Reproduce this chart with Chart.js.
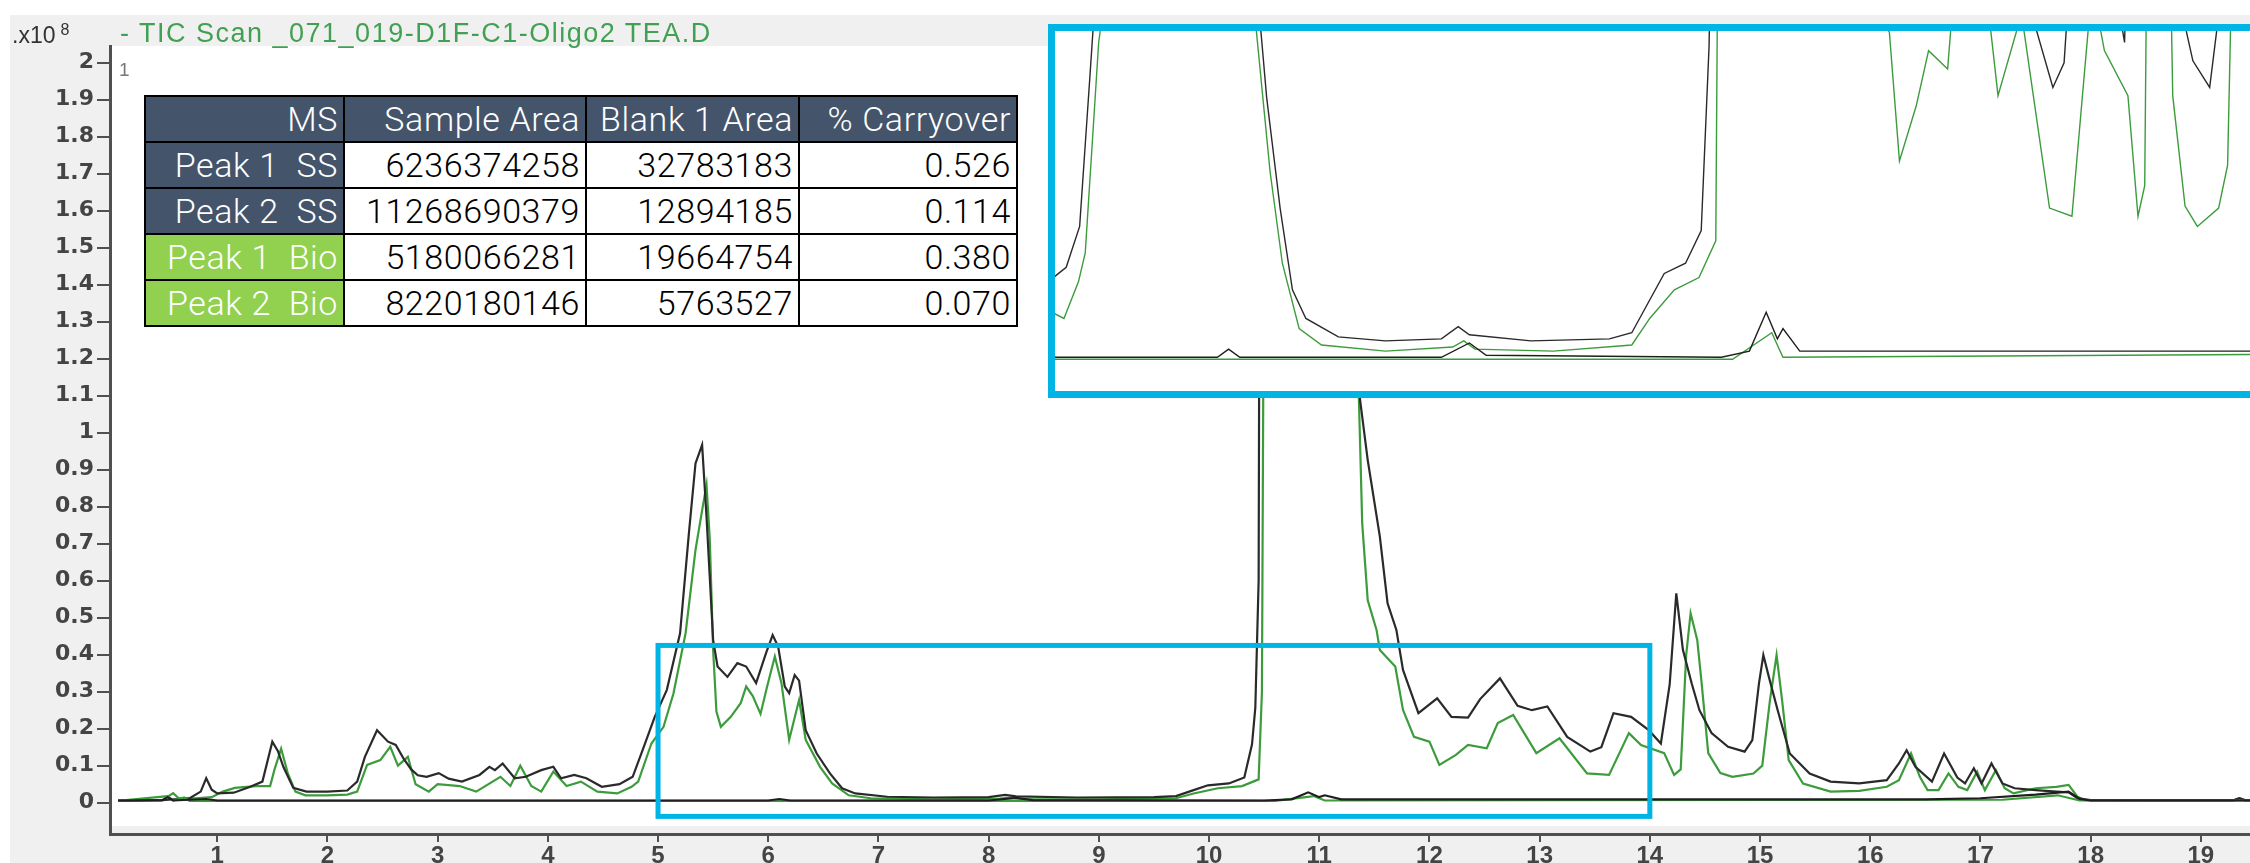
<!DOCTYPE html>
<html lang="en">
<head>
    <meta charset="UTF-8">
    <title>TIC Scan overlay</title>
    <script src="https://cdn.jsdelivr.net/npm/chart.js"></script>
    <style>
        html, body {
            margin: 0;
            padding: 0;
            width: 2250px;
            height: 863px;
            overflow: hidden;
            background: #fff;
        }
        #mainChart {
            position: absolute;
            left: 0;
            top: 0;
        }
        .lbl {
            position: absolute;
            font-family: "Liberation Sans", Arial, sans-serif;
            white-space: nowrap;
            line-height: 1;
        }
        #scaleLbl { left: 12px; top: 22px; font-size: 23px; color: #333; }
        #scaleLbl sup { font-size: 16px; vertical-align: 8px; margin-left: 5px; }
        #title { left: 120px; top: 20px; font-size: 27px; letter-spacing: 1.5px; color: #41a052; }
        #traceNo { left: 119px; top: 60px; font-size: 19px; color: #777; }
        #areas {
            position: absolute;
            left: 144px;
            top: 95px;
            width: 872px;
            table-layout: fixed;
            border-collapse: collapse;
            font-family: Roboto, Lato, sans-serif;
            font-weight: 300;
            font-size: 34px;
            letter-spacing: 0.6px;
            background: #fff;
        }
        #areas tr { height: 46px; }
        #areas td {
            border: 2px solid #000;
            padding: 0 5px 0 2px;
            text-align: right;
            white-space: pre;
            color: #000;
            line-height: 40px;
        }
        #areas tr.head td { background: #44546a; color: #fff; }
        #areas td.ss { background: #44546a; color: #fff; }
        #areas td.bio { background: #92d050; color: #fff; }
        #inset {
            position: absolute;
            left: 1048px;
            top: 24px;
            width: 1195px;
            height: 360px;
            border: 7px solid #00b4e6;
            border-right: none;
            background: #fff;
        }
        #insetChart { display: block; }
    </style>
</head>
<body>
    <canvas id="mainChart" width="2250" height="863"></canvas>

    <div class="lbl" id="scaleLbl">.x10<sup>8</sup></div>
    <div class="lbl" id="title">- TIC Scan _071_019-D1F-C1-Oligo2 TEA.D</div>
    <div class="lbl" id="traceNo">1</div>

    <table id="areas">
        <colgroup>
            <col style="width:199px"><col style="width:242px"><col style="width:213px"><col style="width:218px">
        </colgroup>
        <tr class="head"><td>MS</td><td>Sample Area</td><td>Blank 1 Area</td><td>% Carryover</td></tr>
        <tr><td class="ss">Peak 1  SS</td><td>6236374258</td><td>32783183</td><td>0.526</td></tr>
        <tr><td class="ss">Peak 2  SS</td><td>11268690379</td><td>12894185</td><td>0.114</td></tr>
        <tr><td class="bio">Peak 1  Bio</td><td>5180066281</td><td>19664754</td><td>0.380</td></tr>
        <tr><td class="bio">Peak 2  Bio</td><td>8220180146</td><td>5763527</td><td>0.070</td></tr>
    </table>

    <div id="inset"><canvas id="insetChart" width="1195" height="360"></canvas></div>

    <script>
        // retention time (min) and abundance (x10^8)
        const ssTime = [0.1, 0.5, 0.75, 0.85, 0.9, 0.95, 1.0, 1.15, 1.3, 1.41, 1.5, 1.55, 1.6, 1.69, 1.81, 2.0, 2.18, 2.27, 2.34, 2.45,
            2.55, 2.62, 2.69, 2.76, 2.82, 2.9, 3.01, 3.1, 3.22, 3.38, 3.47, 3.52, 3.59, 3.7, 3.8, 3.94, 4.05, 4.12, 4.24, 4.35,
            4.49, 4.65, 4.77, 4.86, 4.97, 5.08, 5.2, 5.28, 5.34, 5.4, 5.44, 5.5, 5.54, 5.63, 5.72, 5.8, 5.89, 5.98, 6.04, 6.09,
            6.15, 6.19, 6.24, 6.28, 6.34, 6.44, 6.56, 6.67, 6.79, 7.08, 7.5, 8.0, 8.15, 8.25, 8.8, 9.5, 9.7, 9.86, 9.99, 10.18,
            10.32, 10.39, 10.42, 10.45, 10.47, 11.3, 11.37, 11.44, 11.55, 11.62, 11.7, 11.76, 11.9, 12.07, 12.2, 12.35, 12.46, 12.64, 12.8, 12.93,
            13.07, 13.25, 13.46, 13.56, 13.67, 13.83, 13.99, 14.1, 14.18, 14.24, 14.3, 14.38, 14.45, 14.56, 14.71, 14.86, 14.93, 14.99, 15.03, 15.08,
            15.16, 15.27, 15.45, 15.64, 15.9, 16.15, 16.26, 16.33, 16.41, 16.56, 16.67, 16.79, 16.86, 16.94, 17.01, 17.1, 17.2, 17.31, 17.5, 17.69,
            17.8, 17.88, 18.0, 19.3, 19.35, 19.4, 19.5];
        const ssSignal = [0.006, 0.007, 0.012, 0.03, 0.066, 0.035, 0.025, 0.027, 0.043, 0.057, 0.165, 0.14, 0.097, 0.04, 0.03, 0.03, 0.033, 0.057, 0.124, 0.196,
            0.165, 0.156, 0.12, 0.09, 0.074, 0.07, 0.08, 0.065, 0.057, 0.075, 0.097, 0.088, 0.106, 0.066, 0.07, 0.088, 0.097, 0.066, 0.075, 0.066,
            0.043, 0.05, 0.07, 0.142, 0.232, 0.305, 0.458, 0.728, 0.917, 0.967, 0.773, 0.44, 0.368, 0.34, 0.377, 0.368, 0.323, 0.404, 0.453, 0.422,
            0.314, 0.296, 0.345, 0.33, 0.196, 0.133, 0.079, 0.039, 0.025, 0.016, 0.014, 0.015, 0.021, 0.017, 0.014, 0.015, 0.018, 0.034, 0.047, 0.052,
            0.068, 0.158, 0.257, 0.6, 3.0, 3.0, 1.09, 0.926, 0.719, 0.539, 0.467, 0.359, 0.242, 0.282, 0.232, 0.23, 0.28, 0.336, 0.262, 0.25,
            0.26, 0.178, 0.138, 0.15, 0.242, 0.232, 0.196, 0.16, 0.32, 0.566, 0.413, 0.322, 0.25, 0.188, 0.151, 0.138, 0.169, 0.322, 0.399, 0.34,
            0.25, 0.133, 0.079, 0.057, 0.052, 0.061, 0.106, 0.142, 0.097, 0.057, 0.133, 0.068, 0.052, 0.093, 0.052, 0.106, 0.052, 0.039, 0.034, 0.03,
            0.028, 0.012, 0.007, 0.007, 0.012, 0.007, 0.007];

        const bioTime = [0.1, 0.5, 0.6, 0.65, 0.8, 0.95, 1.05, 1.16, 1.35, 1.48, 1.52, 1.58, 1.64, 1.71, 1.8, 2.0, 2.18, 2.27, 2.36, 2.48,
            2.57, 2.64, 2.73, 2.8, 2.92, 3.0, 3.2, 3.35, 3.57, 3.66, 3.75, 3.85, 3.94, 4.05, 4.17, 4.3, 4.45, 4.63, 4.76, 4.82,
            4.94, 5.05, 5.14, 5.25, 5.34, 5.4, 5.44, 5.47, 5.5, 5.53, 5.57, 5.66, 5.75, 5.8, 5.86, 5.93, 5.99, 6.06, 6.12, 6.19,
            6.28, 6.34, 6.47, 6.58, 6.73, 6.93, 7.5, 8.1, 8.2, 8.3, 9.0, 9.7, 9.86, 10.08, 10.3, 10.45, 10.48, 10.52, 11.3, 11.36,
            11.39, 11.44, 11.52, 11.55, 11.69, 11.76, 11.86, 12.0, 12.09, 12.24, 12.35, 12.52, 12.62, 12.76, 12.97, 13.18, 13.43, 13.63, 13.81, 13.92,
            14.13, 14.22, 14.28, 14.33, 14.37, 14.43, 14.47, 14.53, 14.64, 14.75, 14.94, 15.02, 15.09, 15.15, 15.2, 15.26, 15.39, 15.64, 15.9, 16.15,
            16.26, 16.37, 16.45, 16.52, 16.62, 16.71, 16.8, 16.88, 16.97, 17.04, 17.14, 17.22, 17.3, 17.5, 17.69, 17.8, 17.88, 17.95, 18.5, 19.3,
            19.35, 19.4, 19.5];
        const bioSignal = [0.005, 0.006, 0.026, 0.012, 0.012, 0.015, 0.03, 0.04, 0.045, 0.045, 0.09, 0.146, 0.08, 0.03, 0.02, 0.02, 0.022, 0.03, 0.102, 0.115,
            0.151, 0.1, 0.124, 0.05, 0.03, 0.05, 0.045, 0.03, 0.07, 0.045, 0.1, 0.045, 0.03, 0.084, 0.045, 0.057, 0.03, 0.025, 0.043, 0.057,
            0.16, 0.205, 0.295, 0.458, 0.683, 0.79, 0.859, 0.71, 0.413, 0.246, 0.205, 0.232, 0.269, 0.314, 0.288, 0.24, 0.314, 0.395, 0.323, 0.17,
            0.278, 0.17, 0.097, 0.052, 0.02, 0.012, 0.009, 0.011, 0.014, 0.01, 0.009, 0.012, 0.025, 0.039, 0.045, 0.063, 0.3, 3.0, 3.0, 1.09,
            0.755, 0.547, 0.467, 0.413, 0.368, 0.251, 0.178, 0.165, 0.102, 0.129, 0.156, 0.147, 0.215, 0.237, 0.134, 0.174, 0.079, 0.075, 0.188, 0.156,
            0.134, 0.075, 0.09, 0.4, 0.512, 0.44, 0.323, 0.134, 0.08, 0.07, 0.079, 0.1, 0.277, 0.399, 0.277, 0.115, 0.052, 0.03, 0.032, 0.043,
            0.061, 0.133, 0.07, 0.034, 0.034, 0.079, 0.043, 0.034, 0.084, 0.034, 0.088, 0.039, 0.025, 0.039, 0.043, 0.048, 0.016, 0.007, 0.006, 0.006,
            0.012, 0.006, 0.006];

        const blankSSTime = [0.1, 0.5, 0.55, 0.6, 0.9, 1.0, 2.0, 4.0, 6.0, 6.1, 6.2, 8.0, 8.25, 8.4, 10.5, 10.75, 10.9, 11.0, 11.05, 11.2,
            13.0, 16.5, 17.0, 17.5, 17.8, 17.9, 18.0, 19.5];
        const blankSSSignal = [0.006, 0.007, 0.015, 0.006, 0.01, 0.006, 0.006, 0.006, 0.006, 0.01, 0.006, 0.006, 0.013, 0.007, 0.006, 0.009, 0.028, 0.015, 0.02, 0.009,
            0.009, 0.009, 0.012, 0.022, 0.03, 0.01, 0.006, 0.006];

        const blankBioTime = [0.1, 0.55, 0.6, 0.7, 0.75, 10.6, 10.95, 11.05, 17.2, 17.7, 17.9, 19.5];
        const blankBioSignal = [0.005, 0.018, 0.006, 0.014, 0.005, 0.005, 0.018, 0.006, 0.008, 0.02, 0.006, 0.006];

        const zoomBox = { xMin: 5.0, xMax: 14.0, yMin: -0.037, yMax: 0.425 };

        function toPoints(times, values) {
            return times.map((t, i) => ({ x: t, y: values[i] }));
        }

        function makeDatasets(width) {
            return [
                { label: 'Blank SS', data: toPoints(blankSSTime, blankSSSignal), borderColor: '#1e1e1e', borderWidth: width },
                { label: 'Blank Bio', data: toPoints(blankBioTime, blankBioSignal), borderColor: '#3c9c3c', borderWidth: width },
                { label: 'Sample SS', data: toPoints(ssTime, ssSignal), borderColor: '#2a2a2a', borderWidth: width },
                { label: 'Sample Bio', data: toPoints(bioTime, bioSignal), borderColor: '#3c9c3c', borderWidth: width }
            ];
        }

        const framePlugin = {
            id: 'frame',
            beforeDraw(chart) {
                const ctx = chart.ctx;
                const a = chart.chartArea;
                ctx.save();
                ctx.fillStyle = '#fff';
                ctx.fillRect(0, 0, chart.width, chart.height);
                ctx.fillStyle = '#f0f0f0';
                ctx.fillRect(10, 15, chart.width - 10, chart.height - 15);
                ctx.fillStyle = '#fff';
                ctx.fillRect(a.left + 2, a.top, a.right - a.left, a.bottom - a.top - 8);
                ctx.restore();
            }
        };

        const boxPlugin = {
            id: 'zoomBox',
            afterDatasetsDraw(chart) {
                const ctx = chart.ctx;
                const x = chart.scales.x;
                const y = chart.scales.y;
                const l = x.getPixelForValue(zoomBox.xMin);
                const r = x.getPixelForValue(zoomBox.xMax);
                const t = y.getPixelForValue(zoomBox.yMax);
                const b = y.getPixelForValue(zoomBox.yMin);
                ctx.save();
                ctx.strokeStyle = '#00b4e6';
                ctx.lineWidth = 5;
                ctx.strokeRect(l, t, r - l, b - t);
                ctx.restore();
            }
        };

        const axisColor = '#505050';

        new Chart(document.getElementById('mainChart'), {
            type: 'line',
            data: { datasets: makeDatasets(2.2) },
            options: {
                responsive: false,
                animation: false,
                elements: { point: { radius: 0 }, line: { tension: 0 } },
                layout: { padding: { top: 46, left: 0, right: 0, bottom: 0 } },
                plugins: { legend: { display: false }, tooltip: { enabled: false } },
                scales: {
                    x: {
                        type: 'linear',
                        min: 0.027,
                        max: 19.446,
                        afterFit(scale) { scale.height = 29; },
                        border: { display: true, color: axisColor, width: 3 },
                        grid: { drawOnChartArea: false, drawTicks: true, tickLength: 8, color: axisColor, lineWidth: 2 },
                        ticks: {
                            stepSize: 1, includeBounds: false, color: '#444', padding: 0, maxRotation: 0,
                            font: { family: '"Liberation Sans", Arial, sans-serif', size: 24, weight: 'bold' }
                        }
                    },
                    y: {
                        type: 'linear',
                        min: -0.0846,
                        max: 2.045,
                        afterFit(scale) { scale.width = 110; },
                        border: { display: true, color: axisColor, width: 3 },
                        grid: { drawOnChartArea: false, drawTicks: true, tickLength: 13, color: axisColor, lineWidth: 2 },
                        ticks: {
                            stepSize: 0.1,
                            includeBounds: false,
                            color: '#444',
                            padding: 3,
                            font: { family: '"DejaVu Sans", sans-serif', size: 22, weight: 'bold' },
                            callback: value => String(Number(value.toFixed(1)))
                        }
                    }
                }
            },
            plugins: [framePlugin, boxPlugin]
        });

        // magnified view of the baseline region
        new Chart(document.getElementById('insetChart'), {
            type: 'line',
            data: { datasets: makeDatasets(1.4) },
            options: {
                responsive: false,
                animation: false,
                elements: { point: { radius: 0 }, line: { tension: 0 } },
                layout: { padding: 0 },
                plugins: { legend: { display: false }, tooltip: { enabled: false } },
                scales: {
                    x: { type: 'linear', display: false, min: 4.55, max: 15.22 },
                    y: { type: 'linear', display: false, min: -0.0105, max: 0.1656 }
                }
            }
        });
    </script>
</body>
</html>
